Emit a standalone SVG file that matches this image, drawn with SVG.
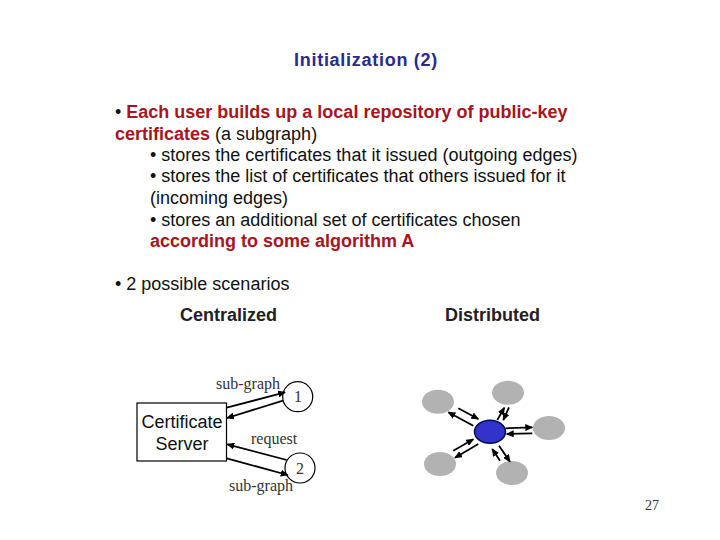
<svg xmlns="http://www.w3.org/2000/svg" width="720" height="540" viewBox="0 0 720 540">
<style>
text{font-family:"Liberation Sans",Arial,sans-serif;font-size:18px;fill:#111}
.title{fill:#2b2b8c;font-weight:bold;letter-spacing:.72px}
.red{fill:#a81420;font-weight:bold}
.head{font-weight:bold;fill:#222}
.serif{font-family:"Liberation Serif","Times New Roman",serif;font-size:16px;fill:#333}
.mid{text-anchor:middle}
.conn line{stroke:#000;stroke-width:1.8;marker-end:url(#a)}
.node{fill:#fff;stroke:#000;stroke-width:1.2}
.gray{fill:#b2b2b2}
.blue{fill:#3333cc;stroke:#000c50;stroke-width:1.5}
</style>
<defs><marker id="a" markerUnits="userSpaceOnUse" markerWidth="8" markerHeight="7" refX="7" refY="3.500" orient="auto"><path d="M0 0L8 3.500L0 7z" fill="#000"/></marker></defs>
<rect width="720" height="540" fill="#fff"/>
<text class="title mid" x="366" y="66">Initialization (2)</text>
<text x="115" y="118"><tspan>• </tspan><tspan class="red">Each user builds up a local repository of public-key</tspan></text>
<text x="115" y="140"><tspan class="red">certificates</tspan> (a subgraph)</text>
<text x="150" y="161">• stores the certificates that it issued (outgoing edges)</text>
<text x="150" y="182">• stores the list of certificates that others issued for it</text>
<text x="150" y="204">(incoming edges)</text>
<text x="150" y="226">• stores an additional set of certificates chosen</text>
<text class="red" x="150" y="247">according to some algorithm A</text>
<text x="115" y="290">• 2 possible scenarios</text>
<text class="head" x="180" y="321">Centralized</text>
<text class="head" x="445" y="321">Distributed</text>
<g id="server"><rect class="node" x="137" y="403" width="89.500" height="58"/><text class="mid" x="182" y="428">Certificate</text><text class="mid" x="182" y="450">Server</text></g>
<g id="client1"><circle class="node" cx="297.700" cy="396.700" r="15"/><text class="serif mid" x="298" y="402">1</text></g>
<g id="client2"><circle class="node" cx="300" cy="468" r="15"/><text class="serif mid" x="300" y="474">2</text></g>
<g id="peer1"><ellipse class="gray" cx="438" cy="401.700" rx="16" ry="12"/></g>
<g id="peer2"><ellipse class="gray" cx="508" cy="392.700" rx="16" ry="12"/></g>
<g id="peer3"><ellipse class="gray" cx="549" cy="428" rx="16" ry="12"/></g>
<g id="peer4"><ellipse class="gray" cx="440" cy="464" rx="16" ry="12"/></g>
<g id="peer5"><ellipse class="gray" cx="512" cy="473" rx="16" ry="12"/></g>
<g id="center"><ellipse class="blue" cx="490" cy="431.700" rx="15.500" ry="11.500"/></g>
<g class="conn" id="connectors">
<line x1="226.700" y1="407.700" x2="285" y2="392.300"/>
<line x1="283" y1="400.700" x2="227" y2="418"/>
<line x1="286.700" y1="460" x2="227.300" y2="444.300"/>
<line x1="226.700" y1="458.300" x2="287.700" y2="475"/>
<line x1="458.300" y1="408.300" x2="478.300" y2="419"/>
<line x1="473.300" y1="425.700" x2="448.300" y2="412.300"/>
<line x1="497.300" y1="420" x2="504.300" y2="407.700"/>
<line x1="509" y1="407.300" x2="503.300" y2="420"/>
<line x1="505.700" y1="428.300" x2="532.300" y2="427.300"/>
<line x1="532.300" y1="433.300" x2="506.700" y2="434"/>
<line x1="453.300" y1="450.700" x2="473.300" y2="439.300"/>
<line x1="478.300" y1="444" x2="455" y2="457.700"/>
<line x1="499" y1="445.700" x2="510" y2="461.700"/>
<line x1="500" y1="460.700" x2="492.300" y2="449"/>
</g>
<text class="serif" x="216" y="389">sub-graph</text>
<text class="serif" x="251" y="444">request</text>
<text class="serif" x="229" y="491">sub-graph</text>
<text class="serif" x="645" y="510" style="font-size:14px">27</text>
</svg>
